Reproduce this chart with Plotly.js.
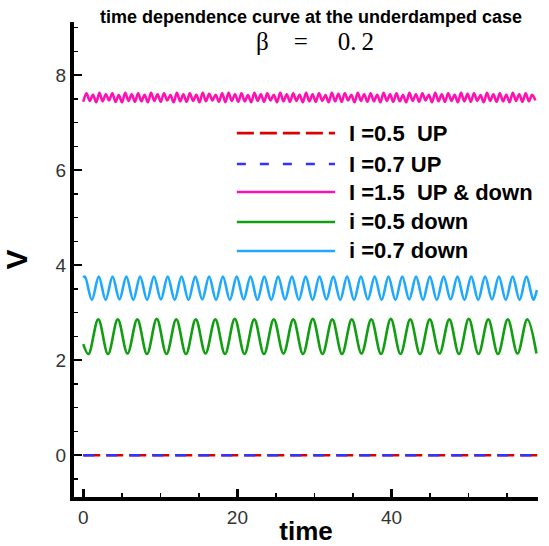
<!DOCTYPE html>
<html>
<head>
<meta charset="utf-8">
<script src="https://cdn.plot.ly/plotly-3.0.1.min.js"></script>
<style>html,body{margin:0;padding:0;background:#fff;}#chart{width:549px;height:546px;}</style>
</head>
<body>
<div id="chart"></div>
<script>
// ---- data ----
var legendLabels = ["I =0.5\u00a0\u00a0UP", "I =0.7 UP", "I =1.5\u00a0\u00a0UP & down", "i =0.5 down", "i =0.7 down"];
var xTicks = [0, 20, 40];
var yTicks = [0, 2, 4, 6, 8];

var upT = [0, 59];
var upV05 = [0, 0];
var upV07 = [0, 0];

var magentaT = [0.00,0.42,0.84,1.26,1.68,2.10,2.51,2.93,3.35,3.77,4.19,4.61,5.03,5.45,5.87,6.29,6.70,7.12,7.54,7.96,
8.38,8.80,9.22,9.64,10.06,10.48,10.89,11.31,11.73,12.15,12.57,12.99,13.41,13.83,14.25,14.67,15.08,15.50,15.92,16.34,
16.76,17.18,17.60,18.02,18.44,18.86,19.27,19.69,20.11,20.53,20.95,21.37,21.79,22.21,22.63,23.05,23.46,23.88,24.30,24.72,
25.14,25.56,25.98,26.40,26.82,27.24,27.65,28.07,28.49,28.91,29.33,29.75,30.17,30.59,31.01,31.43,31.84,32.26,32.68,33.10,
33.52,33.94,34.36,34.78,35.20,35.62,36.03,36.45,36.87,37.29,37.71,38.13,38.55,38.97,39.39,39.81,40.22,40.64,41.06,41.48,
41.90,42.32,42.74,43.16,43.58,44.00,44.41,44.83,45.25,45.67,46.09,46.51,46.93,47.35,47.77,48.19,48.60,49.02,49.44,49.86,
50.28,50.70,51.12,51.54,51.96,52.38,52.79,53.21,53.63,54.05,54.47,54.89,55.31,55.73,56.15,56.57,56.98,57.40,57.82,58.24,58.66];
var magentaV = [7.44,7.62,7.46,7.59,7.43,7.63,7.45,7.60,7.47,7.62,7.44,7.58,7.43,7.63,
7.46,7.60,7.44,7.62,7.45,7.59,7.43,7.63,7.46,7.60,7.44,7.62,7.47,7.58,
7.43,7.63,7.45,7.60,7.44,7.62,7.46,7.59,7.43,7.63,7.45,7.61,7.47,7.59,
7.44,7.62,7.43,7.63,7.46,7.60,7.44,7.62,7.45,7.58,7.43,7.63,7.46,7.60,
7.44,7.62,7.47,7.59,7.43,7.63,7.45,7.60,7.44,7.62,7.46,7.59,7.43,7.63,
7.45,7.60,7.44,7.62,7.46,7.58,7.43,7.63,7.45,7.61,7.44,7.62,7.47,7.59,
7.43,7.63,7.46,7.60,7.44,7.62,7.45,7.59,7.43,7.63,7.46,7.60,7.44,7.62,
7.45,7.58,7.43,7.63,7.46,7.60,7.44,7.62,7.47,7.59,7.43,7.63,7.45,7.60,
7.44,7.62,7.46,7.59,7.43,7.63,7.45,7.61,7.44,7.62,7.46,7.58,7.43,7.63,
7.46,7.60,7.44,7.62,7.45,7.59,7.43,7.63,7.46,7.60,7.44,7.62,7.45,7.59,7.47];

var greenT = [0, 0.68, 1.95, 3.21, 4.48, 5.74, 7.01, 8.27, 9.54, 10.80, 12.07, 13.33, 14.60, 15.86, 17.13, 18.39,
19.66, 20.92, 22.19, 23.45, 24.72, 25.98, 27.25, 28.51, 29.78, 31.04, 32.31, 33.57, 34.84, 36.10, 37.37, 38.63,
39.90, 41.16, 42.43, 43.69, 44.96, 46.22, 47.49, 48.75, 50.02, 51.28, 52.55, 53.81, 55.08, 56.34, 57.61, 58.80];
var greenV = [2.34, 2.13, 2.86, 2.13, 2.86, 2.14, 2.86, 2.13, 2.87, 2.13, 2.86, 2.13, 2.86, 2.14, 2.86, 2.13,
2.87, 2.13, 2.86, 2.13, 2.86, 2.14, 2.86, 2.13, 2.87, 2.13, 2.86, 2.13, 2.86, 2.14, 2.86, 2.13,
2.87, 2.13, 2.86, 2.13, 2.86, 2.14, 2.86, 2.13, 2.87, 2.13, 2.86, 2.13, 2.86, 2.14, 2.86, 2.14];

var cyanT = [0, 0.22, 1.12, 2.01, 2.91, 3.80, 4.70, 5.59, 6.49, 7.38, 8.28, 9.17, 10.07, 10.96, 11.86, 12.75, 13.65,
14.54, 15.44, 16.33, 17.23, 18.12, 19.02, 19.91, 20.81, 21.70, 22.60, 23.49, 24.39, 25.28, 26.18, 27.07, 27.97,
28.86, 29.76, 30.65, 31.55, 32.44, 33.34, 34.23, 35.13, 36.02, 36.92, 37.81, 38.71, 39.60, 40.50, 41.39, 42.29,
43.18, 44.08, 44.97, 45.87, 46.76, 47.66, 48.55, 49.45, 50.34, 51.24, 52.13, 53.03, 53.92, 54.82, 55.71, 56.61,
57.50, 58.40, 58.85];
var cyanV = [3.74, 3.76, 3.27, 3.76, 3.27, 3.76, 3.28, 3.76, 3.27, 3.76, 3.27, 3.76, 3.28, 3.76, 3.27, 3.76, 3.27,
3.76, 3.28, 3.76, 3.27, 3.76, 3.27, 3.76, 3.28, 3.76, 3.27, 3.76, 3.27, 3.76, 3.28, 3.76, 3.27,
3.76, 3.27, 3.76, 3.28, 3.76, 3.27, 3.76, 3.27, 3.76, 3.28, 3.76, 3.27, 3.76, 3.27, 3.76, 3.28,
3.76, 3.27, 3.76, 3.27, 3.76, 3.28, 3.76, 3.27, 3.76, 3.27, 3.76, 3.28, 3.76, 3.27, 3.76, 3.27,
3.76, 3.27, 3.48];

var colors = ["#dd0000", "#3333ff", "#ff10b0", "#119e11", "#1ea8ff"];

// ---- traces ----
var lw = 2.6;
var traces = [
  {x: upT, y: upV05, name: legendLabels[0], mode: "lines", line: {color: colors[0], width: lw, dash: "17px,6px"}},
  {x: upT, y: upV07, name: legendLabels[1], mode: "lines", line: {color: colors[1], width: lw, dash: "11px,12px"}},
  {x: magentaT, y: magentaV, name: legendLabels[2], mode: "lines", line: {color: colors[2], width: lw, shape: "spline"}},
  {x: greenT, y: greenV, name: legendLabels[3], mode: "lines", line: {color: colors[3], width: lw, shape: "spline"}},
  {x: cyanT, y: cyanV, name: legendLabels[4], mode: "lines", line: {color: colors[4], width: lw, shape: "spline"}}
];

// ---- custom legend (long line samples like the reference) ----
var legRows = [0.766, 0.701, 0.642, 0.579, 0.518];
var legDash = ["17px,6px", "9px,14px", "solid", "solid", "solid"];
var shapes = [], annotations = [];
for (var i = 0; i < legendLabels.length; i++) {
  shapes.push({type: "line", xref: "paper", yref: "paper", x0: 0.351, x1: 0.5625, y0: legRows[i], y1: legRows[i],
    line: {color: colors[i], width: 2.6, dash: legDash[i]}});
  annotations.push({xref: "paper", yref: "paper", x: 0.588, y: legRows[i], xanchor: "left", yanchor: "middle",
    showarrow: false, text: legendLabels[i],
    font: {family: "Liberation Sans, Arial, sans-serif", size: 22, weight: "bold", color: "#000"}});
}
annotations.push({xref: "paper", yref: "paper", x: 0.519, y: 0.960, xanchor: "center", yanchor: "middle",
  showarrow: false, text: "\u03b2\u2003=\u2003\u20090.\u20092",
  font: {family: "Liberation Serif, Times New Roman, serif", size: 25, color: "#000"}});

var tickFont = {family: "Liberation Sans, Arial, sans-serif", size: 19, color: "#333"};
var layout = {
  width: 549, height: 546,
  margin: {l: 74, r: 11, t: 22, b: 49, pad: 0},
  paper_bgcolor: "#fff", plot_bgcolor: "#fff",
  showlegend: false,
  font: {family: "Liberation Sans, Arial, sans-serif", color: "#000"},
  title: {text: "time dependence curve at the underdamped case",
    font: {family: "Liberation Sans, Arial, sans-serif", size: 18, weight: "bold", color: "#000"},
    x: 0.5665, xanchor: "center", y: 0.969, yanchor: "middle", xref: "container", yref: "container"},
  xaxis: {
    range: [-1.2, 59.0], showgrid: false, zeroline: false,
    showline: true, linewidth: 4, linecolor: "#000",
    tickmode: "array", tickvals: xTicks, ticktext: xTicks.map(String),
    ticks: "inside", ticklen: 8, tickwidth: 2.5, tickcolor: "#000",
    minor: {ticks: "inside", dtick: 5, tick0: 0, ticklen: 4, tickwidth: 1.5, tickcolor: "#000", showgrid: false},
    tickfont: tickFont,
    title: {text: "time", font: {family: "Liberation Sans, Arial, sans-serif", size: 26, weight: "bold", color: "#000"}, standoff: 2}
  },
  yaxis: {
    range: [-0.88, 9.12], showgrid: false, zeroline: false,
    showline: true, linewidth: 4, linecolor: "#000",
    tickmode: "array", tickvals: yTicks, ticktext: yTicks.map(String),
    ticks: "inside", ticklen: 8, tickwidth: 2.5, tickcolor: "#000",
    minor: {ticks: "inside", dtick: 0.5, tick0: 0, ticklen: 4, tickwidth: 1.5, tickcolor: "#000", showgrid: false},
    tickfont: tickFont,
    title: {text: "V", font: {family: "Liberation Sans, Arial, sans-serif", size: 30, weight: "bold", color: "#000"}, standoff: 22}
  },
  shapes: shapes,
  annotations: annotations
};

Plotly.newPlot("chart", traces, layout, {displayModeBar: false, staticPlot: true});
</script>
</body>
</html>
